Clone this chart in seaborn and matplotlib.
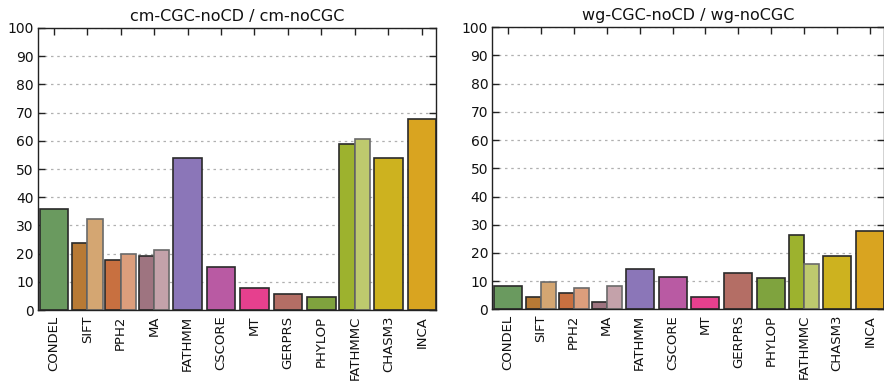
import seaborn as sns
import pandas as pd
import matplotlib
matplotlib.use("Agg")
import matplotlib.pyplot as plt

tools = ["CONDEL", "SIFT", "PPH2", "MA", "FATHMM", "CSCORE", "MT",
         "GERPRS", "PHYLOP", "FATHMMC", "CHASM3", "INCA"]

# single-bar tools
cm_single = {"CONDEL": 35.7, "FATHMM": 54.0, "CSCORE": 15.3, "MT": 8.0,
             "GERPRS": 5.7, "PHYLOP": 4.7, "CHASM3": 54.0, "INCA": 67.9}
wg_single = {"CONDEL": 8.2, "FATHMM": 14.4, "CSCORE": 11.5, "MT": 4.4,
             "GERPRS": 12.9, "PHYLOP": 11.0, "CHASM3": 19.1, "INCA": 27.8}

# paired tools: (dark, light)
cm_pair = {"SIFT": (23.8, 32.4), "PPH2": (17.6, 20.0),
           "MA": (19.1, 21.4), "FATHMMC": (58.8, 60.6)}
wg_pair = {"SIFT": (4.4, 9.6), "PPH2": (5.7, 7.7),
           "MA": (2.8, 8.2), "FATHMMC": (26.3, 16.2)}

colors = {"CONDEL": "#6a9a5f", "FATHMM": "#8b76b8", "CSCORE": "#b95aa3",
          "MT": "#e6408e", "GERPRS": "#b46e65", "PHYLOP": "#7fa33e",
          "CHASM3": "#cdb21f", "INCA": "#d9a420"}
pair_colors = {"SIFT": ("#b87a35", "#d4a672"), "PPH2": ("#c87040", "#dc9e7c"),
               "MA": ("#9e7480", "#c4a2aa"), "FATHMMC": ("#9db22e", "#bec96e")}

titles = ["cm-CGC-noCD / cm-noCGC", "wg-CGC-noCD / wg-noCGC"]

sns.set_style("white")
plt.rcParams["font.family"] = ["DejaVu Sans"]

fig = plt.figure(figsize=(8.84, 3.82), dpi=100)
ax1 = fig.add_axes([0.043, 0.188, 0.450, 0.739])
ax2 = fig.add_axes([0.557, 0.190, 0.443, 0.739])

for ax, single, pair, title in [(ax1, cm_single, cm_pair, titles[0]),
                                (ax2, wg_single, wg_pair, titles[1])]:
    sdf = pd.DataFrame({"tool": list(single.keys()), "value": list(single.values())})
    rows = []
    for t, (d, l) in pair.items():
        rows.append((t, "dark", d))
        rows.append((t, "light", l))
    pdf = pd.DataFrame(rows, columns=["tool", "kind", "value"])

    sns.barplot(data=sdf, x="tool", y="value", hue="tool", order=tools,
                palette=colors, width=0.85, legend=False, ax=ax,
                edgecolor="#2a2a2a", linewidth=1.2, saturation=1, errorbar=None)
    n0 = len(ax.containers)
    sns.barplot(data=pdf, x="tool", y="value", hue="kind", order=tools,
                hue_order=["dark", "light"], width=0.92, dodge=True,
                legend=False, ax=ax, linewidth=1.2, saturation=1, errorbar=None)
    # recolour the paired bars per tool
    for ci, cont in enumerate(ax.containers[n0:]):
        for bar in cont:
            idx = int(round(bar.get_x() + bar.get_width() * (1 if ci == 0 else 0)))
            t = tools[idx]
            if t in pair_colors:
                bar.set_facecolor(pair_colors[t][ci])
                bar.set_edgecolor("#2a2a2a" if ci == 0 else "#6a6a6a")

    ax.set_xlim(-0.47, 11.42)
    ax.set_ylim(0, 100)
    ax.set_yticks(range(0, 101, 10))
    ax.set_xlabel("")
    ax.set_ylabel("")
    ax.set_title(title, fontsize=11.5, pad=5, color="#111111")
    ax.tick_params(axis="x", rotation=90, labelsize=9.5, pad=4)
    ax.tick_params(axis="y", labelsize=10, pad=3)
    ax.tick_params(direction="in", length=5, width=1, top=True, right=True,
                   bottom=True, left=True, color="#222222", labelcolor="#111111")
    ax.yaxis.grid(True, linestyle=(0, (2, 3)), color="#b0b0b0", linewidth=0.9)
    ax.set_axisbelow(True)
    for s in ax.spines.values():
        s.set_color("#222222")
        s.set_linewidth(1)

fig.savefig("out.png", dpi=100)
